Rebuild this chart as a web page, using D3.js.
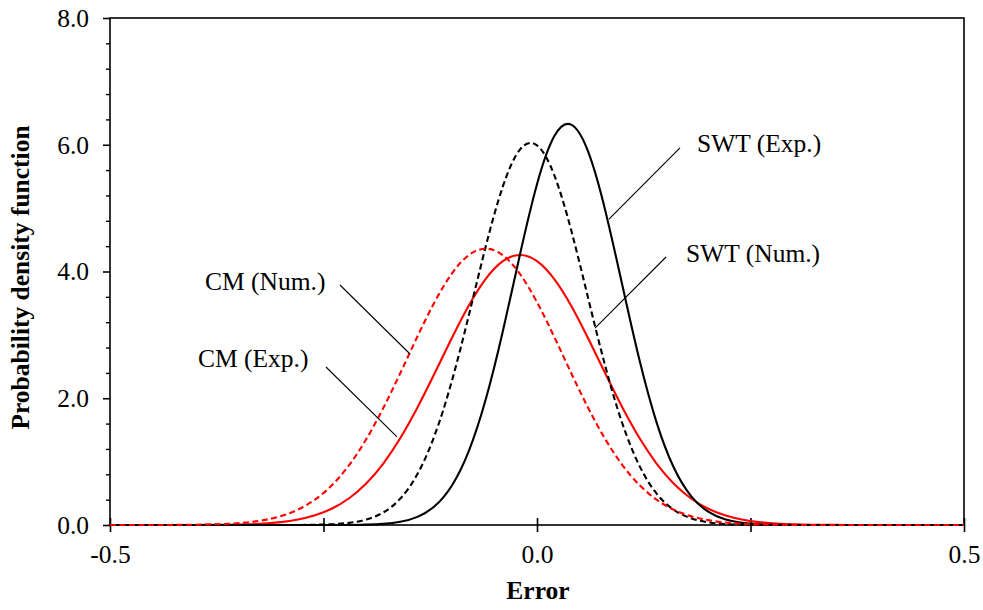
<!DOCTYPE html>
<html>
<head>
<meta charset="utf-8">
<script src="https://cdn.jsdelivr.net/npm/d3@7"></script>
<style>
  html, body { margin: 0; padding: 0; background: #fff; }
  svg { display: block; }
  text { font-family: "Liberation Serif", "Times New Roman", serif; fill: #000; }
</style>
</head>
<body>
<svg id="chart" width="983" height="610"></svg>
<script>
// ---------- data ----------
const errorGrid = [-0.50,-0.48,-0.46,-0.44,-0.42,-0.40,-0.38,-0.36,-0.34,-0.32,
  -0.30,-0.28,-0.26,-0.24,-0.22,-0.20,-0.18,-0.16,-0.14,-0.12,
  -0.10,-0.08,-0.06,-0.04,-0.02,0.00,0.02,0.04,0.06,0.08,
  0.10,0.12,0.14,0.16,0.18,0.20,0.22,0.24,0.26,0.28,
  0.30,0.32,0.34,0.36,0.38,0.40,0.42,0.44,0.46,0.48,0.50];

const swtExp = [0,0,0,0,0,0,0,0,0,0,0,0,0,0,0,
  0.006,0.018,0.050,0.128,0.295,0.616,1.162,1.983,3.058,4.265,5.378,6.129,6.317,5.887,4.960,
  3.778,2.602,1.620,0.912,0.465,0.214,0.089,0.033,0.011,0.003,
  0,0,0,0,0,0,0,0,0,0,0];

const swtNum = [0,0,0,0,0,0,0,0,0,0,0,0,
  0.004,0.012,0.034,0.086,0.198,0.417,0.803,1.410,2.257,3.300,4.396,5.342,5.923,5.991,
  5.529,4.654,3.574,2.504,1.600,0.933,0.496,0.241,0.107,0.043,0.016,0.005,0.001,
  0,0,0,0,0,0,0,0,0,0,0,0];

const cmExp = [0,0,0,0,0,
  0.001,0.002,0.005,0.011,0.023,0.046,0.086,0.153,0.260,0.422,0.655,0.970,1.372,1.854,2.390,
  2.942,3.460,3.884,4.163,4.260,4.163,3.884,3.460,2.942,2.390,1.854,1.372,0.970,0.655,0.422,
  0.260,0.153,0.086,0.046,0.023,0.011,0.005,0.002,0.001,
  0,0,0,0,0,0,0];

const cmNum = [0,0,0,0,
  0.002,0.004,0.010,0.020,0.040,0.077,0.140,0.242,0.400,0.630,0.945,1.353,1.845,2.399,2.975,3.516,
  3.962,4.257,4.360,4.257,3.962,3.516,2.975,2.399,1.845,1.353,0.945,0.630,0.400,0.242,0.140,
  0.077,0.040,0.020,0.010,0.004,0.002,
  0,0,0,0,0,0,0,0,0,0];

const seriesNames = ["SWT (Exp.)", "SWT (Num.)", "CM (Exp.)", "CM (Num.)"];
const xTickLabels = [-0.5, 0.0, 0.5];
const xTickMarks = [-0.5, -0.25, 0.0, 0.25, 0.5];
const yTickLabels = [0, 2, 4, 6, 8];
const yMinorTicks = [0.4,0.8,1.2,1.6,2.4,2.8,3.2,3.6,4.4,4.8,5.2,5.6,6.4,6.8,7.2,7.6];

// annotation labels with leader lines (data units)
const annotations = [
  {label: "SWT (Exp.)", tx: 0.1874, ty: 5.886, x1: 0.1674, y1: 5.949, x2: 0.0843, y2: 4.828},
  {label: "SWT (Num.)", tx: 0.1745, ty: 4.150, x1: 0.1511, y1: 4.229, x2: 0.0679, y2: 3.108},
  {label: "CM (Num.)",  tx: -0.3888, ty: 3.708, x1: -0.2307, y1: 3.787, x2: -0.1487, y2: 2.698},
  {label: "CM (Exp.)",  tx: -0.3970, ty: 2.493, x1: -0.2471, y1: 2.493, x2: -0.1639, y2: 1.389}
];

// ---------- layout ----------
const svg = d3.select("#chart");
const margin = {left: 110, right: 19, top: 18, bottom: 85};
const W = 983, H = 610;
const x = d3.scaleLinear().domain([-0.5, 0.5]).range([margin.left, W - margin.right]);
const y = d3.scaleLinear().domain([0, 8]).range([H - margin.bottom, margin.top]);
const FS = 25.5;

// frame
svg.append("rect")
  .attr("x", x(-0.5)).attr("y", y(8))
  .attr("width", x(0.5) - x(-0.5)).attr("height", y(0) - y(8))
  .attr("fill", "none").attr("stroke", "#000").attr("stroke-width", 1.6);

// y axis major
const yAxis = svg.append("g").attr("transform", `translate(${x(-0.5)},0)`)
  .call(d3.axisLeft(y).tickValues(yTickLabels).tickFormat(d => d.toFixed(1))
    .tickSizeInner(7).tickSizeOuter(0).tickPadding(14));
yAxis.select(".domain").remove();
yAxis.selectAll("line").attr("stroke", "#000").attr("stroke-width", 1.6);
yAxis.selectAll("text").attr("font-size", FS).attr("x", -21).attr("dy", "0.33em")
  .style("font-family", '"Liberation Serif", "Times New Roman", serif');

// y axis minor
const yMinor = svg.append("g").attr("transform", `translate(${x(-0.5)},0)`)
  .call(d3.axisLeft(y).tickValues(yMinorTicks).tickFormat("").tickSizeInner(4).tickSizeOuter(0));
yMinor.select(".domain").remove();
yMinor.selectAll("line").attr("stroke", "#000").attr("stroke-width", 1.4);

// x axis tick marks (crossing)
const xMarks = svg.append("g").attr("transform", `translate(0,${y(0)})`)
  .call(d3.axisBottom(x).tickValues(xTickMarks).tickFormat("").tickSizeInner(7).tickSizeOuter(0));
xMarks.select(".domain").remove();
xMarks.selectAll("line").attr("y1", -7).attr("y2", 7).attr("stroke", "#000").attr("stroke-width", 1.6);

// x axis labels
const xLab = svg.append("g").attr("transform", `translate(0,${y(0)})`)
  .call(d3.axisBottom(x).tickValues(xTickLabels).tickFormat(d => d.toFixed(1)).tickSize(0));
xLab.select(".domain").remove();
xLab.selectAll("text").attr("font-size", FS).attr("y", 38).attr("dy", 0)
  .style("font-family", '"Liberation Serif", "Times New Roman", serif');

// axis titles
svg.append("text")
  .attr("x", (x(-0.5) + x(0.5)) / 2 + 1).attr("y", 599)
  .attr("text-anchor", "middle").attr("font-size", FS).attr("font-weight", "bold")
  .text("Error");
svg.append("text")
  .attr("transform", `translate(29,${(y(0) + y(8)) / 2 + 6}) rotate(-90)`)
  .attr("text-anchor", "middle").attr("font-size", FS).attr("font-weight", "bold")
  .text("Probability density function");

// curves
const line = d3.line()
  .x((d, i) => x(errorGrid[i]))
  .y(d => y(d))
  .curve(d3.curveNatural);

const styles = [
  {name: seriesNames[2], data: cmExp,  color: "#ff0000", dash: null},
  {name: seriesNames[0], data: swtExp, color: "#000", dash: null},
  {name: seriesNames[1], data: swtNum, color: "#000", dash: "6,3.5"},
  {name: seriesNames[3], data: cmNum,  color: "#ff0000", dash: "6,3.5"}
];
svg.append("g").selectAll("path").data(styles).join("path")
  .attr("d", s => line(s.data))
  .attr("fill", "none")
  .attr("stroke", s => s.color)
  .attr("stroke-width", 2.1)
  .attr("stroke-dasharray", s => s.dash);

// annotations
const ann = svg.append("g");
ann.selectAll("line").data(annotations).join("line")
  .attr("x1", d => x(d.x1)).attr("y1", d => y(d.y1))
  .attr("x2", d => x(d.x2)).attr("y2", d => y(d.y2))
  .attr("stroke", "#000").attr("stroke-width", 1.1);
ann.selectAll("text").data(annotations).join("text")
  .attr("x", d => x(d.tx)).attr("y", d => y(d.ty))
  .attr("font-size", FS)
  .text(d => d.label);
</script>
</body>
</html>
